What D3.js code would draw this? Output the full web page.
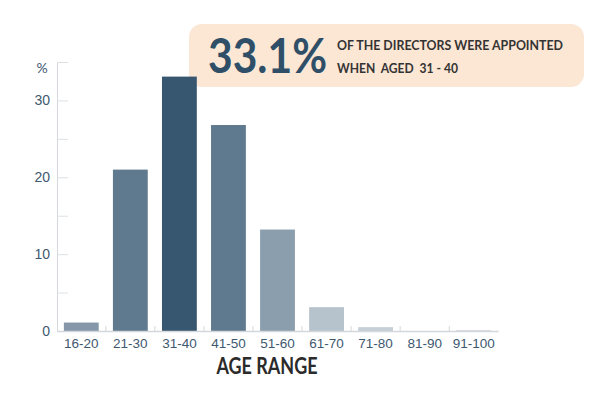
<!DOCTYPE html>
<html>
<head>
<meta charset="utf-8">
<script src="https://cdn.jsdelivr.net/npm/d3@7"></script>
<style>
  body { margin: 0; background: #fff; }
  svg { display: block; font-family: Lato, "Open Sans", sans-serif; }
</style>
</head>
<body>
<div id="chart"></div>
<script>
// data
var ageRanges = ["16-20", "21-30", "31-40", "41-50", "51-60", "61-70", "71-80", "81-90", "91-100"];
var percents = [1.1, 21.0, 33.1, 26.8, 13.2, 3.1, 0.5, 0, 0.1];
var barColors = ["#8597a8", "#5f7a8f", "#37566f", "#5f7a8f", "#8b9eae", "#b7c3cc", "#c6cfd7", "#d0d7dd", "#c9d1d8"];
var yTicks = [0, 5, 10, 15, 20, 25, 30, 35];

var width = 600, height = 395;
var margin = { top: 62, left: 57, right: 102, bottom: 64 };

var svg = d3.select("#chart").append("svg")
  .attr("width", width)
  .attr("height", height);

var x = d3.scaleBand()
  .domain(ageRanges)
  .range([margin.left, width - margin.right])
  .paddingInner(0.29)
  .paddingOuter(0.14);

var y = d3.scaleLinear()
  .domain([0, 35])
  .range([height - margin.bottom, margin.top]);

// callout box behind the bars
var callout = svg.append("g");
callout.append("rect")
  .attr("x", 189).attr("y", 24)
  .attr("width", 395).attr("height", 63)
  .attr("rx", 13)
  .attr("fill", "#fce6d4");

callout.append("text")
  .attr("x", 208).attr("y", 73)
  .attr("font-size", 48)
  .attr("font-weight", 700)
  .attr("fill", "#2f4e67")
  .attr("textLength", 119)
  .attr("lengthAdjust", "spacingAndGlyphs")
  .text("33.1%");

callout.append("text")
  .attr("x", 337).attr("y", 50)
  .attr("font-size", 14)
  .attr("font-weight", 700)
  .attr("fill", "#333")
  .attr("textLength", 226)
  .attr("lengthAdjust", "spacingAndGlyphs")
  .text("OF THE DIRECTORS WERE APPOINTED");

callout.append("text")
  .attr("x", 337).attr("y", 73)
  .attr("font-size", 14)
  .attr("font-weight", 700)
  .attr("fill", "#333")
  .attr("textLength", 121)
  .attr("lengthAdjust", "spacingAndGlyphs")
  .attr("xml:space", "preserve")
  .text("WHEN  AGED  31 - 40");

// y axis
var yAxis = d3.axisLeft(y)
  .tickValues(yTicks)
  .tickSizeInner(-11)
  .tickSizeOuter(0)
  .tickPadding(7)
  .tickFormat(function (d) { return d % 10 === 0 && d < 35 ? d : ""; });

var yg = svg.append("g")
  .attr("transform", "translate(" + margin.left + ",0)")
  .call(yAxis);
yg.select(".domain").attr("stroke", "#d4d8dc");
yg.selectAll(".tick line").attr("stroke", "#dde1e4");
yg.selectAll(".tick text")
  .attr("font-size", 14)
  .attr("fill", "#3e5870");

svg.append("text")
  .attr("x", 42).attr("y", 73)
  .attr("text-anchor", "middle")
  .attr("font-size", 14)
  .attr("fill", "#3e5870")
  .text("%");

// bars
svg.selectAll(".bar")
  .data(ageRanges)
  .enter()
  .append("rect")
  .attr("class", "bar")
  .attr("x", function (d) { return x(d); })
  .attr("width", x.bandwidth())
  .attr("y", function (d, i) { return y(percents[i]); })
  .attr("height", function (d, i) { return y(0) - y(percents[i]); })
  .attr("fill", function (d, i) { return barColors[i]; });

// x axis
var xAxis = d3.axisBottom(x)
  .tickSize(0)
  .tickPadding(7);

var xg = svg.append("g")
  .attr("transform", "translate(0," + y(0) + ")")
  .call(xAxis);
xg.select(".domain").attr("stroke", "#d4d8dc").attr("stroke-width", 1.5);
xg.selectAll(".tick text")
  .attr("font-size", 13.5)
  .attr("fill", "#3e5870");

// small separators between the bands
var step = x.step();
svg.selectAll(".sep")
  .data(ageRanges.slice(1))
  .enter()
  .append("line")
  .attr("class", "sep")
  .attr("x1", function (d) { return x(d) - (step - x.bandwidth()) / 2; })
  .attr("x2", function (d) { return x(d) - (step - x.bandwidth()) / 2; })
  .attr("y1", y(0))
  .attr("y2", y(0) - 5)
  .attr("stroke", "#d4d8dc");

svg.append("text")
  .attr("x", 267).attr("y", 374)
  .attr("text-anchor", "middle")
  .attr("font-size", 22)
  .attr("font-weight", 700)
  .attr("fill", "#2b2b2b")
  .attr("textLength", 101)
  .attr("lengthAdjust", "spacingAndGlyphs")
  .text("AGE RANGE");
</script>
</body>
</html>
